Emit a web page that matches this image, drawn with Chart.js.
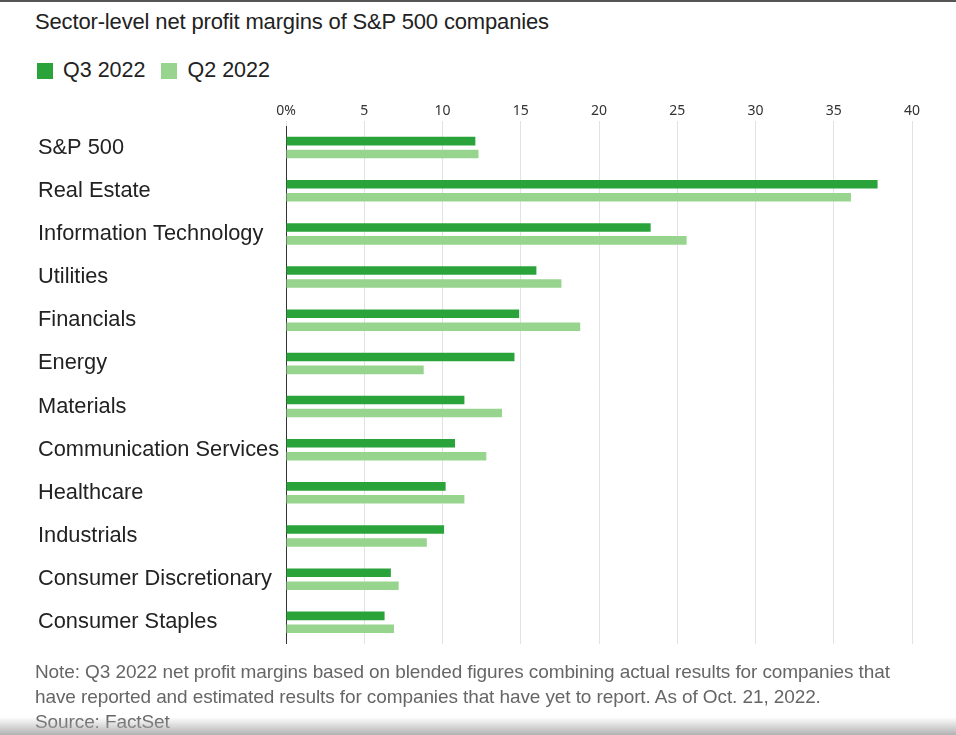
<!DOCTYPE html>
<html>
<head>
<meta charset="utf-8">
<script src="https://cdn.jsdelivr.net/npm/chart.js@4.4.0/dist/chart.umd.min.js"></script>
<style>
  html, body { margin: 0; padding: 0; background: #fff; }
  body { width: 956px; height: 735px; position: relative; overflow: hidden;
         font-family: 'Liberation Sans', Arial, sans-serif; color: #222; }
  .topline { position: absolute; left: 0; top: 0; width: 956px; height: 2px; background: #555; }
  .title { position: absolute; left: 35px; top: 9px; font-size: 22px; letter-spacing: -0.15px; }
  .legend { position: absolute; left: 37px; top: 58px; font-size: 21.5px; display: flex; }
  .legend span.item { display: flex; align-items: center; margin-right: 16px; }
  .legend span.sw { display: inline-block; width: 16px; height: 16px; margin-right: 10px; }
  .chart-box { position: absolute; left: 0; top: 99px; width: 956px; height: 564px; }
  .note { position: absolute; left: 35px; top: 659px; width: 900px; font-size: 19px;
          line-height: 25px; color: #666; letter-spacing: -0.1px; }
  .shade { position: absolute; left: 0; bottom: 0; width: 956px; height: 18px;
           background: linear-gradient(rgba(200,200,200,0), rgba(170,170,170,0.9)); }
</style>
</head>
<body>
<div class="topline"></div>
<div class="title">Sector-level net profit margins of S&amp;P 500 companies</div>
<div class="legend" id="legend"></div>
<div class="chart-box"><canvas id="chart"></canvas></div>
<div class="note">Note: Q3 2022 net profit margins based on blended figures combining actual results for companies that have reported and estimated results for companies that have yet to report. As of Oct. 21, 2022.<br>Source: FactSet</div>
<div class="shade"></div>
<script>
var sectors = ['S&P 500', 'Real Estate', 'Information Technology', 'Utilities', 'Financials',
  'Energy', 'Materials', 'Communication Services', 'Healthcare', 'Industrials',
  'Consumer Discretionary', 'Consumer Staples'];
var seriesNames = ['Q3 2022', 'Q2 2022'];
var q3Values = [12.1, 37.8, 23.3, 16.0, 14.9, 14.6, 11.4, 10.8, 10.2, 10.1, 6.7, 6.3];
var q2Values = [12.3, 36.1, 25.6, 17.6, 18.8, 8.8, 13.8, 12.8, 11.4, 9.0, 7.2, 6.9];
var xTicks = [0, 5, 10, 15, 20, 25, 30, 35, 40];
var colors = ['#2ba33b', '#97d58e'];

// legend built from the series names
var legend = document.getElementById('legend');
seriesNames.forEach(function (name, i) {
  var item = document.createElement('span');
  item.className = 'item';
  item.innerHTML = '<span class="sw" style="background:' + colors[i] + '"></span>' + name;
  legend.appendChild(item);
});

new Chart(document.getElementById('chart'), {
  type: 'bar',
  data: {
    labels: sectors,
    datasets: [
      { label: seriesNames[0], data: q3Values, backgroundColor: colors[0],
        categoryPercentage: 0.6, barPercentage: 0.66 },
      { label: seriesNames[1], data: q2Values, backgroundColor: colors[1],
        categoryPercentage: 0.6, barPercentage: 0.66 }
    ]
  },
  options: {
    indexAxis: 'y',
    responsive: true,
    maintainAspectRatio: false,
    animation: false,
    layout: { padding: { left: 38, right: 44, top: 0, bottom: 8 } },
    plugins: { legend: { display: false }, tooltip: { enabled: false } },
    scales: {
      x: {
        position: 'top',
        min: 0, max: 40,
        afterBuildTicks: function (scale) {
          scale.ticks = xTicks.map(function (v) { return { value: v }; });
        },
        afterFit: function (scale) { scale.height = 27; },
        grid: { color: '#e2e2e2', lineWidth: 1, tickLength: 5, drawTicks: true },
        border: { display: false },
        ticks: {
          color: '#333', padding: 2,
          font: { family: "'Noto Sans', sans-serif", size: 14 },
          callback: function (v) { return v === 0 ? '0%' : v; }
        }
      },
      y: {
        afterFit: function (scale) { scale.width = 248; },
        grid: { display: false },
        border: { display: true, color: '#333', width: 1 },
        ticks: {
          color: '#222', crossAlign: 'far', padding: 6,
          font: { family: "'Liberation Sans', Arial, sans-serif", size: 21.8 }
        }
      }
    }
  }
});
</script>
</body>
</html>
